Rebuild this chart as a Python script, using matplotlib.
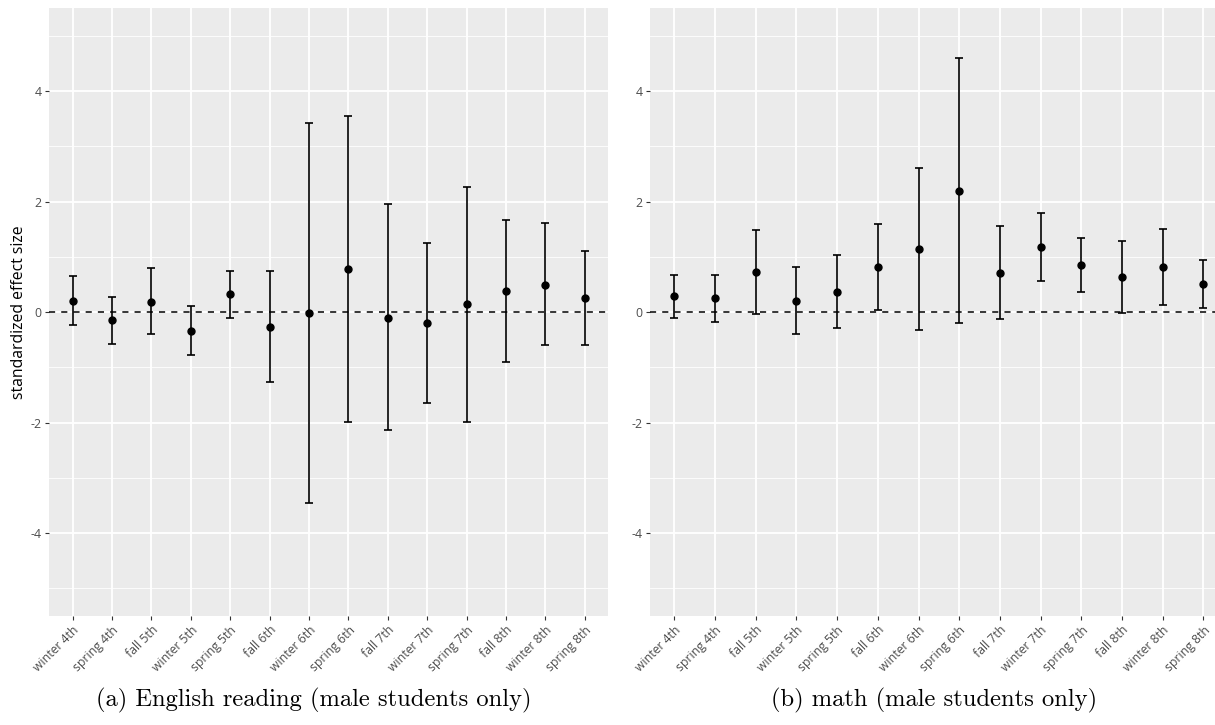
"""Effect-size estimates with confidence intervals by term, male students only.
Two panels: English reading and math, ggplot-like grey theme."""
import numpy as np
import matplotlib
matplotlib.use("Agg")
import matplotlib.pyplot as plt
from matplotlib.ticker import MultipleLocator

plt.rcParams.update({"font.family": "Open Sans", "axes.unicode_minus": False})

TERMS = ["winter 4th", "spring 4th", "fall 5th", "winter 5th", "spring 5th",
         "fall 6th", "winter 6th", "spring 6th", "fall 7th", "winter 7th",
         "spring 7th", "fall 8th", "winter 8th", "spring 8th"]

reading_est = [0.21, -0.145, 0.19, -0.34, 0.33, -0.26, -0.02, 0.78, -0.10, -0.19, 0.14, 0.38, 0.50, 0.25]
reading_lo = [-0.24, -0.57, -0.40, -0.78, -0.10, -1.27, -3.46, -1.99, -2.14, -1.65, -1.99, -0.90, -0.60, -0.59]
reading_hi = [0.66, 0.28, 0.80, 0.11, 0.75, 0.75, 3.43, 3.55, 1.95, 1.26, 2.26, 1.67, 1.62, 1.10]

math_est = [0.29, 0.25, 0.72, 0.20, 0.37, 0.81, 1.14, 2.20, 0.71, 1.18, 0.86, 0.63, 0.81, 0.51]
math_lo = [-0.10, -0.175, -0.04, -0.40, -0.29, 0.03, -0.33, -0.19, -0.13, 0.57, 0.37, -0.01, 0.13, 0.07]
math_hi = [0.68, 0.68, 1.48, 0.81, 1.04, 1.60, 2.61, 4.60, 1.56, 1.80, 1.345, 1.28, 1.51, 0.95]

CAPTIONS = ["(a) English reading (male students only)", "(b) math (male students only)"]

W, H = 1215, 725


def px_axes(fig, x0, x1, y0, y1):
    # pixel box (top-left origin) -> figure fraction
    return fig.add_axes([x0 / W, (H - y1) / H, (x1 - x0) / W, (y1 - y0) / H])


def ci_panel(ax, est, lo, hi):
    x = np.arange(len(TERMS))
    est, lo, hi = map(np.asarray, (est, lo, hi))
    ax.set_facecolor("#EBEBEB")
    for s in ax.spines.values():
        s.set_visible(False)
    ax.set_xlim(-0.6, len(TERMS) - 0.4)
    ax.set_ylim(-5.5, 5.5)
    ax.yaxis.set_major_locator(MultipleLocator(2))
    ax.yaxis.set_minor_locator(MultipleLocator(1))
    ax.set_xticks(x)
    ax.set_xticklabels(TERMS, rotation=45, ha="right", va="top", rotation_mode="anchor")
    ax.grid(True, which="major", color="white", lw=1.3, zorder=0)
    ax.grid(True, which="minor", axis="y", color="white", lw=0.6, zorder=0)
    ax.tick_params(which="major", length=3.2, width=0.8, color="#333333",
                   labelcolor="#4D4D4D", labelsize=8.8, pad=2.2)
    ax.tick_params(which="minor", length=0)
    ax.set_axisbelow(True)
    ax.axhline(0, color="black", lw=1.1, ls=(0, (4, 4)), zorder=2)
    ax.errorbar(x, est, yerr=[est - lo, hi - est], fmt="o", color="black", ms=5,
                elinewidth=1.2, capsize=2.6, capthick=1.2, zorder=3)


def main():
    fig = plt.figure(figsize=(W / 100, H / 100), dpi=100)
    ax_a = px_axes(fig, 49, 608.3, 8.3, 616)
    ax_b = px_axes(fig, 650, 1227.7, 8.3, 616)
    ci_panel(ax_a, reading_est, reading_lo, reading_hi)
    ci_panel(ax_b, math_est, math_lo, math_hi)
    fig.text(19 / W, 1 - 312 / H, "standardized effect size", rotation=90,
             ha="center", va="center", fontsize=11.3)
    fig.text(314 / W, 1 - 700 / H, CAPTIONS[0], family="cmr10", fontsize=17.7,
             ha="center", va="center")
    fig.text(934 / W, 1 - 700 / H, CAPTIONS[1], family="cmr10", fontsize=17.7,
             ha="center", va="center")
    fig.savefig("out.png", dpi=100)
    plt.close(fig)


if __name__ == "__main__":
    main()
